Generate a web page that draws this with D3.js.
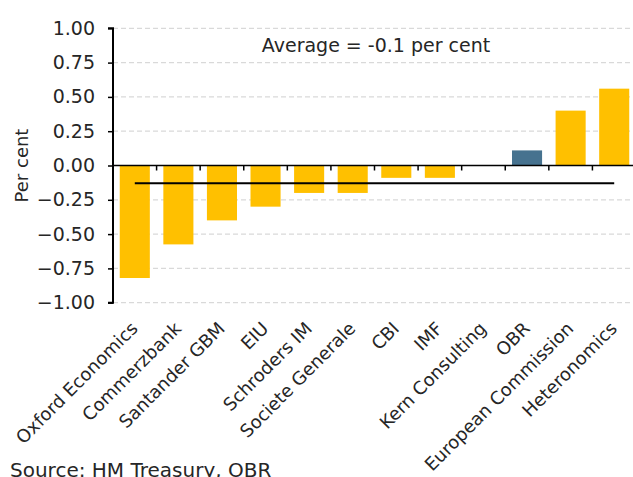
<!DOCTYPE html>
<html><head><meta charset="utf-8">
<script src="https://cdn.jsdelivr.net/npm/d3@7"></script>
<style>body{margin:0;background:#fff}svg{display:block}text{font-family:"DejaVu Sans",sans-serif;fill:#262626}</style>
</head><body><svg id="c" width="633" height="477"></svg>
<script>
const categories = ["Oxford Economics","Commerzbank","Santander GBM","EIU","Schroders IM","Societe Generale","CBI","IMF","Kern Consulting","OBR","European Commission","Heteronomics"];
const values = [-0.82,-0.575,-0.40,-0.30,-0.20,-0.20,-0.09,-0.09,0,0.11,0.40,0.56];
const highlight = ["OBR"];
const average = -0.13;
const yTicks = [1,0.75,0.5,0.25,0,-0.25,-0.5,-0.75,-1];
const avgLabel = "Average = -0.1 per cent";
const yLabel = "Per cent";
const source = "Source: HM Treasury, OBR";

const svg = d3.select("#c");
const L = 113, R = 636, T = 28.3, B = 302.7;
const x = d3.scaleBand().domain(categories).range([L, R]).paddingInner(0.31).paddingOuter(0.155);
const y = d3.scaleLinear().domain([-1, 1]).range([B, T]);

// gridlines
svg.append("g").selectAll("line").data(yTicks.filter(d => d !== 0)).join("line")
  .attr("x1", L).attr("x2", 633).attr("y1", d => y(d)).attr("y2", d => y(d))
  .attr("stroke", "#d9d9d9").attr("stroke-width", 1.3).attr("stroke-dasharray", "5,3");

// bars
svg.append("g").selectAll("rect").data(categories).join("rect")
  .attr("x", d => x(d)).attr("width", x.bandwidth())
  .attr("y", (d, i) => y(Math.max(0, values[i])))
  .attr("height", (d, i) => Math.abs(y(values[i]) - y(0)))
  .attr("fill", d => highlight.includes(d) ? "#46728f" : "#ffc000");

// zero axis with ticks at band boundaries
const xb = d3.scaleLinear().domain([0, categories.length]).range([L, R]);
svg.append("line").attr("x1", L).attr("x2", 633).attr("y1", y(0)).attr("y2", y(0)).attr("stroke", "#000").attr("stroke-width", 1.5);
svg.append("g").selectAll("line").data(d3.range(1, categories.length)).join("line")
  .attr("x1", d => xb(d)).attr("x2", d => xb(d)).attr("y1", y(0)).attr("y2", y(0) + 5)
  .attr("stroke", "#000").attr("stroke-width", 1.5);

// average line
svg.append("line")
  .attr("x1", x(categories[0]) + x.bandwidth() / 2)
  .attr("x2", x(categories[categories.length - 1]) + x.bandwidth() / 2)
  .attr("y1", y(average)).attr("y2", y(average)).attr("stroke", "#000").attr("stroke-width", 2);

// y axis
const ya = svg.append("g").attr("transform", `translate(${L},0)`)
  .call(d3.axisLeft(y).tickValues(yTicks).tickFormat(d3.format(".2f")).tickSize(5).tickPadding(13));
ya.select(".domain").attr("stroke", "#000").attr("stroke-width", 2).attr("d", `M-5,${T}H0V${B}H-5`);
ya.selectAll(".tick line").attr("stroke", "#000").attr("stroke-width", 1.5);
ya.selectAll(".tick text").style("font-size", "19px").attr("fill", "#262626").style("font-family", '"DejaVu Sans",sans-serif');

// y label
svg.append("text").attr("transform", `translate(28,${(T + B) / 2}) rotate(-90)`)
  .attr("text-anchor", "middle").style("font-size", "18px").text(yLabel);

// average label
svg.append("text").attr("x", 376).attr("y", 52).attr("text-anchor", "middle").style("font-size", "19px").text(avgLabel);

// category labels
svg.append("g").selectAll("text").data(categories).join("text")
  .attr("transform", d => `translate(${x(d) + x.bandwidth() / 2 + 4},${y(-1) + 27}) rotate(-45)`)
  .attr("text-anchor", "end").style("font-size", "18px").text(d => d);

// source
svg.append("text").attr("x", 10).attr("y", 477).style("font-size", "20px").text(source);
</script></body></html>
